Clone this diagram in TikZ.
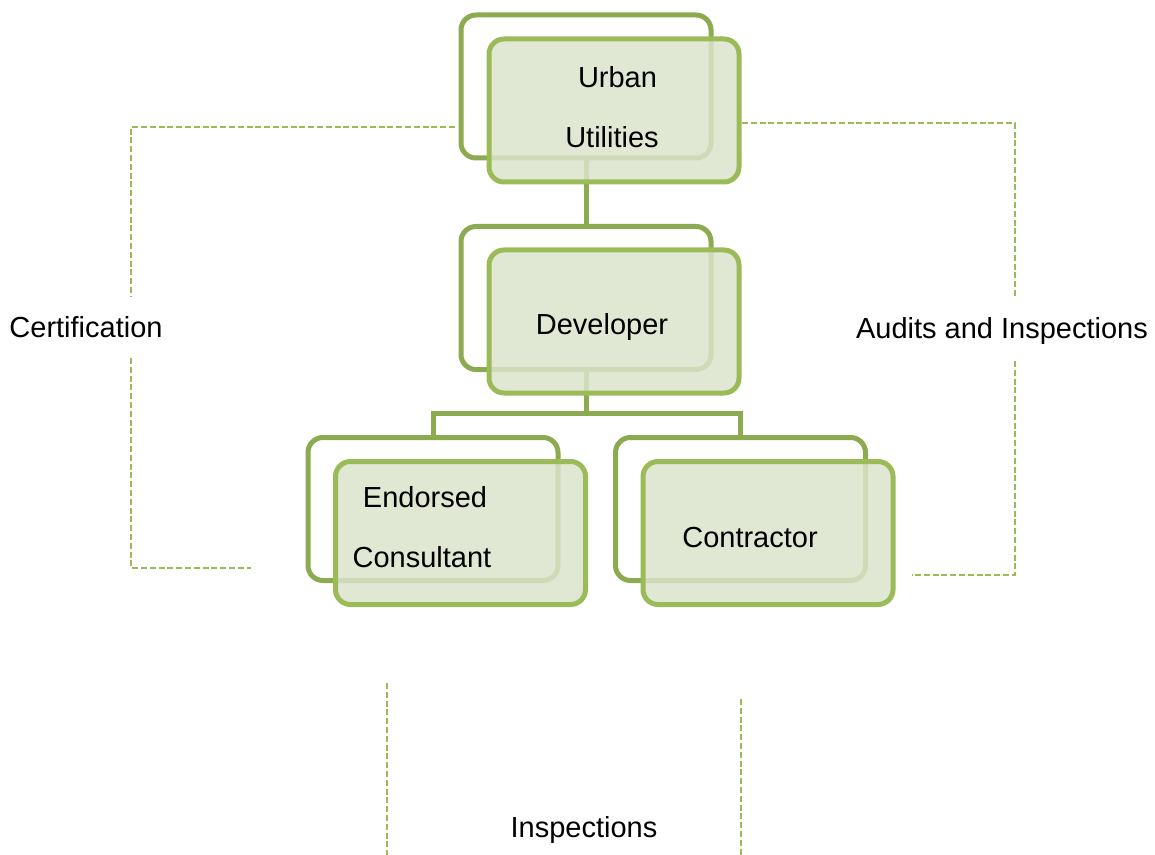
\documentclass[tikz,border=0pt]{standalone}
\usepackage{fontspec}
\setmainfont{Liberation Sans}
\definecolor{backcol}{RGB}{140,170,80}
\definecolor{frontcol}{RGB}{155,187,89}
\definecolor{fillcol}{RGB}{219,228,203}
\begin{document}
\begin{tikzpicture}[x=0.5pt,y=-0.5pt,
  backbox/.style={draw=backcol,line width=2.5pt,rounded corners=7.5pt,minimum width=125pt,minimum height=71.5pt,inner sep=0pt,outer sep=0pt},
  frontbox/.style={draw=frontcol,line width=2.5pt,rounded corners=7.5pt,fill=fillcol,fill opacity=0.85,minimum width=125pt,minimum height=71.5pt,inner sep=0pt,outer sep=0pt},
  conn/.style={draw=backcol,line width=2.5pt},
  dashline/.style={draw=frontcol,line width=1pt,dash pattern=on 3pt off 1.4pt},
  lbl/.style={anchor=base,inner sep=0pt,font=\fontsize{14.5}{17}\selectfont}]
\useasboundingbox (0,0) rectangle (1155,855);
% back boxes
\node[backbox] (uback) at (586,86.5) {};
\node[backbox] (dback) at (586,298) {};
\node[backbox] (eback) at (433,509) {};
\node[backbox] (cback) at (740.5,509) {};
% connectors
\coordinate (j) at (586,413);
\draw[conn] (uback.south) -- (dback.north);
\draw[conn] (dback.south) -- (j);
\draw[conn] (eback.north) |- (j) -| (cback.north);
% front boxes
\node[frontbox] (ufront) at (614,110.5) {};
\node[frontbox] (dfront) at (614,321.5) {};
\node[frontbox] (efront) at (460.5,533) {};
\node[frontbox] (cfront) at (768,533) {};
% box texts
\node[lbl] (t1) at (617.5,88) {Urban};
\node[lbl] (t2) at (612,148) {Utilities};
\node[lbl] (t3) at (602,335) {Developer};
\node[lbl] (t4) at (425,507) {Endorsed};
\node[lbl] (t5) at (422,567) {Consultant};
\node[lbl] (t6) at (750,547) {Contractor};
% side labels
\node[lbl] (cert) at (86,337) {Certification};
\node[lbl] (audit) at (1002,339) {Audits and Inspections};
\node[lbl] (insp) at (584,837) {Inspections};
% dashed relation lines
\coordinate (l1) at (455,127);
\coordinate (l2) at (131,297);
\coordinate (l3) at (131,358);
\coordinate (l4) at (251,568);
\draw[dashline] (l1) -| (l2);
\draw[dashline] (l3) |- (l4);
\coordinate (r1) at (742,123);
\coordinate (r2) at (1015,298);
\coordinate (r3) at (1015,361);
\coordinate (r4) at (912,575);
\draw[dashline] (r1) -| (r2);
\draw[dashline] (r3) |- (r4);
\coordinate (b1) at (387,683);
\coordinate (b2) at (387,855);
\coordinate (b3) at (740.5,699);
\coordinate (b4) at (740.5,855);
\draw[dashline] (b1) -- (b2);
\draw[dashline] (b3) -- (b4);
\end{tikzpicture}
\end{document}
